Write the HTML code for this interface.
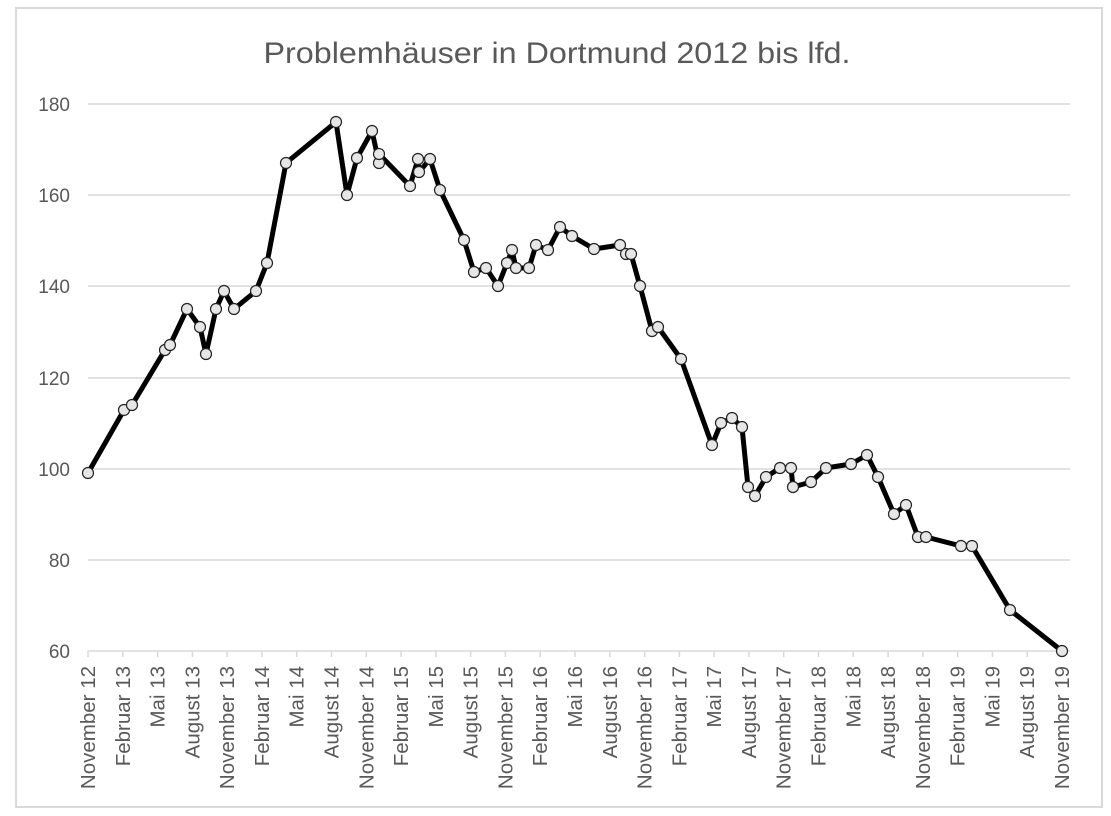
<!DOCTYPE html>
<html><head><meta charset="utf-8"><style>body{margin:0;background:#fff}svg{display:block}</style></head>
<body>
<svg width="1111" height="816" xmlns="http://www.w3.org/2000/svg" font-family="Liberation Sans, sans-serif">
<rect x="16" y="8" width="1086" height="799" fill="#fff" stroke="#d9d9d9" stroke-width="2"/>
<text x="557" y="63" text-anchor="middle" font-size="30" fill="#595959" textLength="587" lengthAdjust="spacingAndGlyphs">Problemhäuser in Dortmund 2012 bis lfd.</text>
<g stroke="#d9d9d9" stroke-width="1.5">
<line x1="88" x2="1070" y1="104" y2="104"/><line x1="88" x2="1070" y1="195" y2="195"/>
<line x1="88" x2="1070" y1="286" y2="286"/><line x1="88" x2="1070" y1="378" y2="378"/>
<line x1="88" x2="1070" y1="469" y2="469"/><line x1="88" x2="1070" y1="560" y2="560"/>
<line x1="88" x2="1070" y1="651" y2="651"/>
</g>
<g font-size="19" fill="#595959" text-anchor="end">
<text x="70" y="111">180</text><text x="70" y="202">160</text><text x="70" y="293">140</text>
<text x="70" y="385">120</text><text x="70" y="476">100</text><text x="70" y="567">80</text><text x="70" y="658">60</text>
</g>
<g stroke="#d9d9d9" stroke-width="1.5">
<path d="M88 651v6M122.8 651v6M157.6 651v6M192.4 651v6M227.1 651v6M261.9 651v6M296.7 651v6M331.5 651v6M366.3 651v6M401.1 651v6M435.9 651v6M470.6 651v6M505.4 651v6M540.2 651v6M575 651v6M609.8 651v6M644.6 651v6M679.4 651v6M714.1 651v6M748.9 651v6M783.7 651v6M818.5 651v6M853.3 651v6M888.1 651v6M922.9 651v6M957.6 651v6M992.4 651v6M1027.2 651v6M1062 651v6"/>
</g>
<g font-size="20.5" fill="#595959" text-anchor="end">
<text transform="translate(95,666) rotate(-90)">November 12</text>
<text transform="translate(129.8,666) rotate(-90)">Februar 13</text>
<text transform="translate(164.6,666) rotate(-90)">Mai 13</text>
<text transform="translate(199.4,666) rotate(-90)">August 13</text>
<text transform="translate(234.1,666) rotate(-90)">November 13</text>
<text transform="translate(268.9,666) rotate(-90)">Februar 14</text>
<text transform="translate(303.7,666) rotate(-90)">Mai 14</text>
<text transform="translate(338.5,666) rotate(-90)">August 14</text>
<text transform="translate(373.3,666) rotate(-90)">November 14</text>
<text transform="translate(408.1,666) rotate(-90)">Februar 15</text>
<text transform="translate(442.9,666) rotate(-90)">Mai 15</text>
<text transform="translate(477.6,666) rotate(-90)">August 15</text>
<text transform="translate(512.4,666) rotate(-90)">November 15</text>
<text transform="translate(547.2,666) rotate(-90)">Februar 16</text>
<text transform="translate(582,666) rotate(-90)">Mai 16</text>
<text transform="translate(616.8,666) rotate(-90)">August 16</text>
<text transform="translate(651.6,666) rotate(-90)">November 16</text>
<text transform="translate(686.4,666) rotate(-90)">Februar 17</text>
<text transform="translate(721.1,666) rotate(-90)">Mai 17</text>
<text transform="translate(755.9,666) rotate(-90)">August 17</text>
<text transform="translate(790.7,666) rotate(-90)">November 17</text>
<text transform="translate(825.5,666) rotate(-90)">Februar 18</text>
<text transform="translate(860.3,666) rotate(-90)">Mai 18</text>
<text transform="translate(895.1,666) rotate(-90)">August 18</text>
<text transform="translate(929.9,666) rotate(-90)">November 18</text>
<text transform="translate(964.6,666) rotate(-90)">Februar 19</text>
<text transform="translate(999.4,666) rotate(-90)">Mai 19</text>
<text transform="translate(1034.2,666) rotate(-90)">August 19</text>
<text transform="translate(1069,666) rotate(-90)">November 19</text>
</g>
<polyline fill="none" stroke="#000" stroke-width="5" stroke-linejoin="round" points="88,473 124,410 132,405 165,350 170,345 187,309 200,327 206,354 216,309 224,291 234,309 256,291 267,263 286,163 336,122 347,195 357,158 372,131 379,163 379,154 410,186 418,159 419,172 430,159 440,190 464,240 474,272 486,268 498,286 507,263 512,250 516,268 529,268 536,245 548,250 560,227 572,236 594,249 620,245 626,254 631,254 640,286 652,331 658,327 681,359 712,445 721,423 732,418 742,427 748,487 755,496 766,477 780,468 791,468 793,487 811,482 826,468 851,464 867,455 878,477 894,514 906,505 918,537 926,537 961,546 972,546 1010,610 1062,651"/>
<g fill="#e6e6e6" stroke="#222" stroke-width="1.2">
<circle cx="88" cy="473" r="5.5"/><circle cx="124" cy="410" r="5.5"/><circle cx="132" cy="405" r="5.5"/><circle cx="165" cy="350" r="5.5"/><circle cx="170" cy="345" r="5.5"/><circle cx="187" cy="309" r="5.5"/><circle cx="200" cy="327" r="5.5"/><circle cx="206" cy="354" r="5.5"/><circle cx="216" cy="309" r="5.5"/><circle cx="224" cy="291" r="5.5"/><circle cx="234" cy="309" r="5.5"/><circle cx="256" cy="291" r="5.5"/><circle cx="267" cy="263" r="5.5"/><circle cx="286" cy="163" r="5.5"/><circle cx="336" cy="122" r="5.5"/><circle cx="347" cy="195" r="5.5"/><circle cx="357" cy="158" r="5.5"/><circle cx="372" cy="131" r="5.5"/><circle cx="379" cy="163" r="5.5"/><circle cx="379" cy="154" r="5.5"/><circle cx="410" cy="186" r="5.5"/><circle cx="418" cy="159" r="5.5"/><circle cx="419" cy="172" r="5.5"/><circle cx="430" cy="159" r="5.5"/><circle cx="440" cy="190" r="5.5"/><circle cx="464" cy="240" r="5.5"/><circle cx="474" cy="272" r="5.5"/><circle cx="486" cy="268" r="5.5"/><circle cx="498" cy="286" r="5.5"/><circle cx="507" cy="263" r="5.5"/><circle cx="512" cy="250" r="5.5"/><circle cx="516" cy="268" r="5.5"/><circle cx="529" cy="268" r="5.5"/><circle cx="536" cy="245" r="5.5"/><circle cx="548" cy="250" r="5.5"/><circle cx="560" cy="227" r="5.5"/><circle cx="572" cy="236" r="5.5"/><circle cx="594" cy="249" r="5.5"/><circle cx="620" cy="245" r="5.5"/><circle cx="626" cy="254" r="5.5"/><circle cx="631" cy="254" r="5.5"/><circle cx="640" cy="286" r="5.5"/><circle cx="652" cy="331" r="5.5"/><circle cx="658" cy="327" r="5.5"/><circle cx="681" cy="359" r="5.5"/><circle cx="712" cy="445" r="5.5"/><circle cx="721" cy="423" r="5.5"/><circle cx="732" cy="418" r="5.5"/><circle cx="742" cy="427" r="5.5"/><circle cx="748" cy="487" r="5.5"/><circle cx="755" cy="496" r="5.5"/><circle cx="766" cy="477" r="5.5"/><circle cx="780" cy="468" r="5.5"/><circle cx="791" cy="468" r="5.5"/><circle cx="793" cy="487" r="5.5"/><circle cx="811" cy="482" r="5.5"/><circle cx="826" cy="468" r="5.5"/><circle cx="851" cy="464" r="5.5"/><circle cx="867" cy="455" r="5.5"/><circle cx="878" cy="477" r="5.5"/><circle cx="894" cy="514" r="5.5"/><circle cx="906" cy="505" r="5.5"/><circle cx="918" cy="537" r="5.5"/><circle cx="926" cy="537" r="5.5"/><circle cx="961" cy="546" r="5.5"/><circle cx="972" cy="546" r="5.5"/><circle cx="1010" cy="610" r="5.5"/><circle cx="1062" cy="651" r="5.5"/>
</g>
</svg>
</body></html>
